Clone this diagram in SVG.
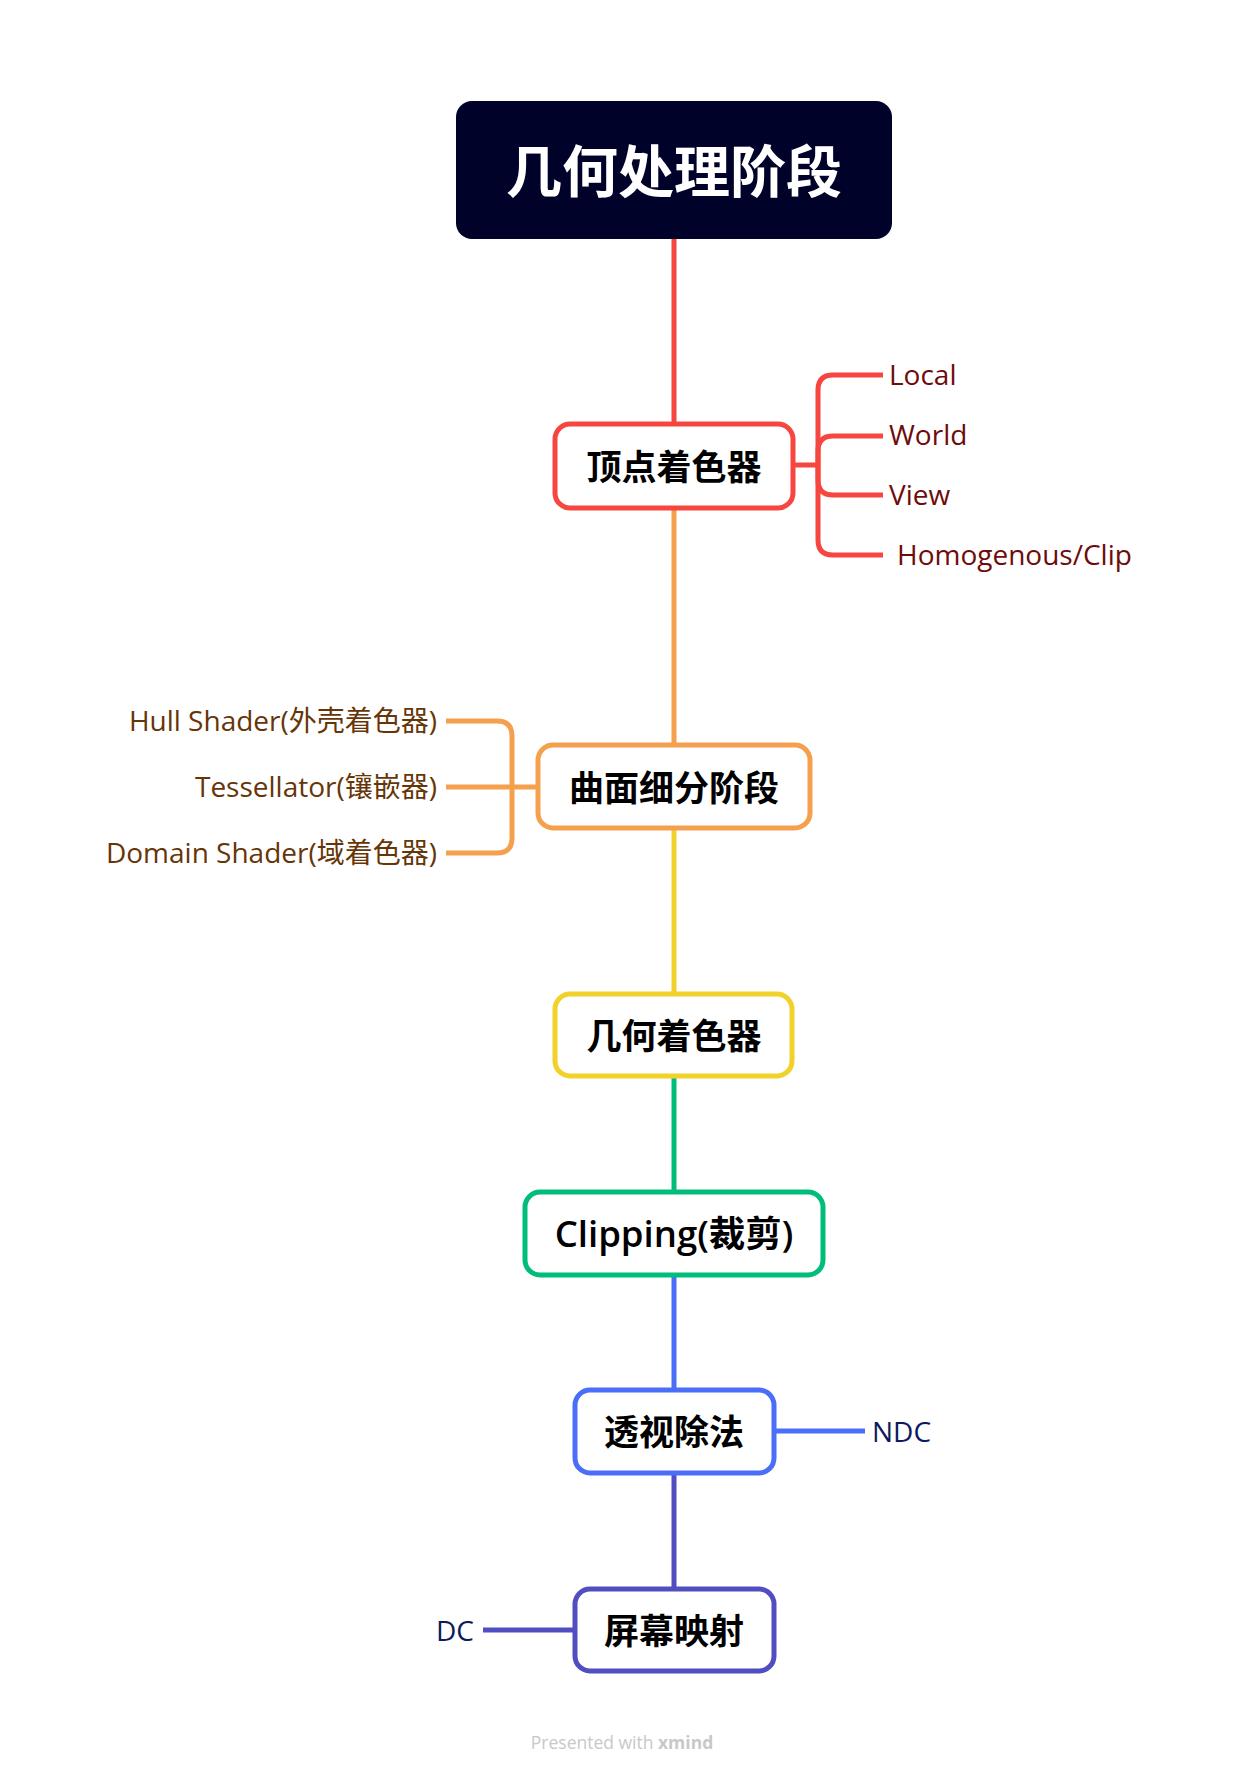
<svg xmlns="http://www.w3.org/2000/svg" width="1244" height="1774" viewBox="0 0 1244 1774">
<style>
.node rect{fill:#ffffff;stroke-width:5}
.nt{font-family:"Open Sans","Noto Sans CJK SC",sans-serif;font-weight:bold;font-size:35px;fill:#000000;text-anchor:middle;dominant-baseline:central}
.lbl{font-family:"Open Sans","Noto Sans CJK SC",sans-serif;font-size:28px;dominant-baseline:central}
.conn path{fill:none;stroke-width:5;stroke-linecap:butt}
</style>
<rect width="1244" height="1774" fill="#ffffff"/>
<g id="connectors" class="conn">
<path d="M674,239 V424" stroke="#F6463F"/>
<path d="M674,508 V745" stroke="#F5A04E"/>
<path d="M674,828 V994" stroke="#F2D12B"/>
<path d="M674,1076 V1192" stroke="#00BE7A"/>
<path d="M674,1275 V1390" stroke="#4A6EF7"/>
<path d="M674,1473 V1589" stroke="#504EC0"/>
<g stroke="#F6463F">
<path d="M793,465 H818"/>
<path d="M818,465 V390 Q818,375 833,375 H883"/>
<path d="M818,465 V451 Q818,436 833,436 H883"/>
<path d="M818,465 V480 Q818,495 833,495 H883"/>
<path d="M818,465 V540 Q818,555 833,555 H883"/>
</g>
<g stroke="#F5A04E">
<path d="M538,787 H446"/>
<path d="M512,787 V736 Q512,721 497,721 H446"/>
<path d="M512,787 V838 Q512,853 497,853 H446"/>
</g>
<path d="M774,1431 H865" stroke="#4A6EF7"/>
<path d="M575,1630 H483" stroke="#504EC0"/>
</g>
<g id="root">
<rect x="456" y="101" width="436" height="138" rx="16" fill="#00022A"/>
<text x="674" y="170" class="nt" style="font-size:56px;fill:#ffffff">几何处理阶段</text>
</g>
<g id="vertex-shader" class="node">
<rect x="555" y="424" width="238" height="84" rx="15" stroke="#F6463F"/>
<text x="674" y="466" class="nt">顶点着色器</text>
</g>
<g id="vertex-children">
<text x="889" y="374" class="lbl" fill="#6E0B0B">Local</text>
<text x="889" y="434" class="lbl" fill="#6E0B0B">World</text>
<text x="889" y="494" class="lbl" fill="#6E0B0B">View</text>
<text x="897" y="554" class="lbl" fill="#6E0B0B">Homogenous/Clip</text>
</g>
<g id="tessellation" class="node">
<rect x="538" y="745" width="272" height="83" rx="15" stroke="#F5A04E"/>
<text x="674" y="787" class="nt">曲面细分阶段</text>
</g>
<g id="tess-children">
<text x="437" y="720" class="lbl" fill="#663508" text-anchor="end">Hull Shader(外壳着色器)</text>
<text x="437" y="786" class="lbl" fill="#663508" text-anchor="end">Tessellator(镶嵌器)</text>
<text x="437" y="852" class="lbl" fill="#663508" text-anchor="end">Domain Shader(域着色器)</text>
</g>
<g id="geometry-shader" class="node">
<rect x="555" y="994" width="237" height="82" rx="15" stroke="#F2D12B"/>
<text x="674" y="1035" class="nt">几何着色器</text>
</g>
<g id="clipping" class="node">
<rect x="525" y="1192" width="298" height="83" rx="15" stroke="#00BE7A"/>
<text x="674" y="1233" class="nt" style="font-weight:600;font-size:36.5px">Clipping(裁剪)</text>
</g>
<g id="perspective-divide" class="node">
<rect x="575" y="1390" width="199" height="83" rx="15" stroke="#4A6EF7"/>
<text x="674" y="1431" class="nt">透视除法</text>
</g>
<g id="ndc">
<text x="872" y="1431" class="lbl" fill="#0D1A5C">NDC</text>
</g>
<g id="screen-mapping" class="node">
<rect x="575" y="1589" width="199" height="82" rx="15" stroke="#504EC0"/>
<text x="674" y="1630" class="nt">屏幕映射</text>
</g>
<g id="dc">
<text x="474" y="1630" class="lbl" fill="#0D1A5C" text-anchor="end">DC</text>
</g>
<text x="622" y="1742" font-family="Open Sans, sans-serif" font-size="17.5" fill="#C8C8C8" text-anchor="middle" dominant-baseline="central">Presented with <tspan font-weight="bold">xmind</tspan></text>
</svg>
